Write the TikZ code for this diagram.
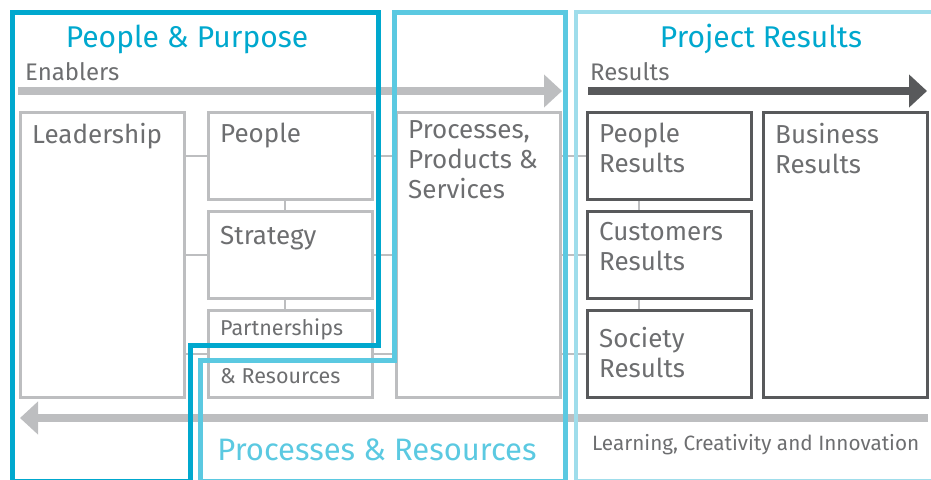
\documentclass[tikz,border=0pt]{standalone}
\usepackage{fontspec}
\setmainfont{Fira Sans}
\usetikzlibrary{arrows.meta}
\definecolor{ppblue}{HTML}{00A8CE}
\definecolor{prblue}{HTML}{5BC9E1}
\definecolor{resblue}{HTML}{9FDDEB}
\definecolor{boxgray}{HTML}{BDBEC0}
\definecolor{boxdark}{HTML}{58595B}
\definecolor{textgray}{HTML}{6D6E70}
\begin{document}
\begin{tikzpicture}[x=1pt,y=-1pt,
  gbox/.style={draw=boxgray,line width=2.5pt,anchor=north west,inner sep=0pt,minimum width=164pt},
  dbox/.style={draw=boxdark,line width=3pt,anchor=north west,inner sep=0pt,minimum width=164pt},
  boxtext/.style={anchor=north west,inner sep=0pt,xshift=13pt,yshift=-12pt,text=textgray,align=left,font=\fontsize{26}{30}\selectfont},
  link/.style={draw=boxgray,line width=2pt},
  flow/.style={line width=8pt,-{Triangle[length=18pt,width=32pt]}},
  label text/.style={inner sep=0pt,text=textgray,font=\fontsize{24}{28}\selectfont},
  title/.style={inner sep=0pt,text=ppblue,font=\fontsize{30}{34}\selectfont},
  frame/.style={line width=5pt,line join=miter}]
  \useasboundingbox (0,0) rectangle (931,479);

  \node[gbox,minimum height=285pt,label={[boxtext]north west:Leadership}] (lead) at (19,111) {};
  \node[gbox,minimum height=87pt,label={[boxtext]north west:People}] (ppl) at (207,111) {};
  \node[gbox,minimum height=87pt,label={[boxtext,yshift=-4pt]north west:Strategy}] (strat) at (207,210) {};
  \node[gbox,minimum height=87pt,label={[boxtext,yshift=2pt,font=\fontsize{21.5}{26}\selectfont]north west:{Partnerships\\[22pt]\& Resources}}] (part) at (207,309) {};
  \node[gbox,minimum height=285pt,label={[boxtext,yshift=3pt]north west:{Processes,\\Products \&\\Services}}] (proc) at (395,111) {};
  \node[dbox,minimum height=87pt,label={[boxtext]north west:{People\\Results}}] (pres) at (586,111) {};
  \node[dbox,minimum height=87pt,label={[boxtext]north west:{Customers\\Results}}] (cres) at (586,210) {};
  \node[dbox,minimum height=87pt,label={[boxtext,yshift=-6pt]north west:{Society\\Results}}] (sres) at (586,309) {};
  \node[dbox,minimum height=285pt,label={[boxtext]north west:{Business\\Results}}] (bres) at (762,111) {};

  \draw[link] (lead.east |- ppl.west) -- (ppl.west);
  \draw[link] (lead.east |- strat.west) -- (strat.west);
  \draw[link] (lead.east |- part.west) -- (part.west);
  \draw[link] (ppl.east) -- (ppl.east -| proc.west);
  \draw[link] (strat.east) -- (strat.east -| proc.west);
  \draw[link] (part.east) -- (part.east -| proc.west);
  \draw[link] (proc.east |- pres.west) -- (pres.west);
  \draw[link] (proc.east |- cres.west) -- (cres.west);
  \draw[link] (proc.east |- sres.west) -- (sres.west);
  \draw[link] ([xshift=-5pt]ppl.south) -- ([xshift=-5pt]strat.north);
  \draw[link] ([xshift=-5pt]strat.south) -- ([xshift=-5pt]part.north);
  \draw[link] ([xshift=-31pt]pres.south) -- ([xshift=-31pt]cres.north);
  \draw[link] ([xshift=-31pt]cres.south) -- ([xshift=-31pt]sres.north);

  \coordinate (enstart) at (18,91);
  \coordinate (enend) at (562,91);
  \coordinate (resstart) at (588,91);
  \coordinate (resend) at (927,91);
  \coordinate (lcistart) at (928,418);
  \coordinate (lciend) at (20,418);
  \draw[flow,boxgray] (enstart) -- (enend);
  \draw[flow,boxdark] (resstart) -- (resend);
  \draw[flow,boxgray] (lcistart) -- (lciend);

  \node[label text,anchor=base west] (enab) at (25,80) {Enablers};
  \node[label text,anchor=base west] (reslabel) at (590,80) {Results};
  \node[label text,anchor=base west,font=\fontsize{20.7}{25}\selectfont] (lci) at (592,450) {Learning, Creativity and Innovation};
  \node[title,anchor=base] (pptitle) at (187,47) {People \& Purpose};
  \node[title,anchor=base] (prtitle) at (761,47) {Project Results};
  \node[title,anchor=base,text=prblue,font=\fontsize{31}{35}\selectfont] (pstitle) at (377,460) {Processes \& Resources};

  \draw[frame,ppblue] (12,12) -- (378,12) -- (378,345) -- (190,345) -- (190,481) -- (12,481) -- cycle;
  \draw[frame,prblue] (394,12) -- (565,12) -- (565,481) -- (200,481) -- (200,360) -- (394,360) -- cycle;
  \draw[frame,resblue,line width=4pt] (576,12) -- (936,12) -- (936,481) -- (576,481) -- cycle;
\end{tikzpicture}
\end{document}
